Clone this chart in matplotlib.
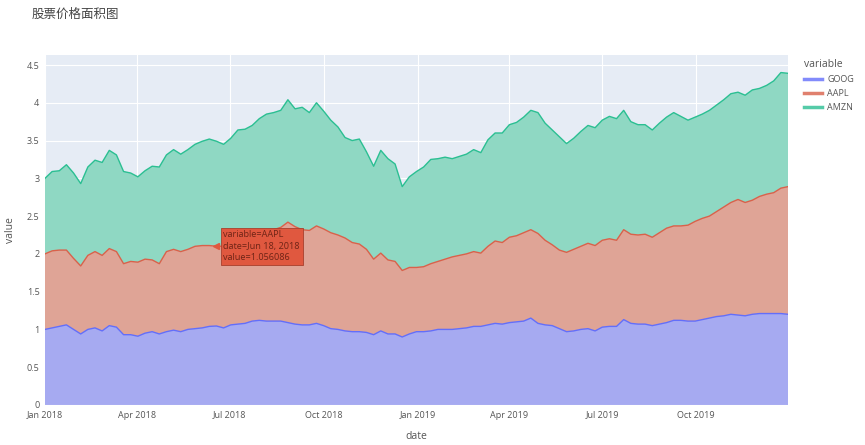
import matplotlib
matplotlib.use('Agg')
import matplotlib.pyplot as plt
import matplotlib.dates as mdates
from matplotlib.lines import Line2D
import numpy as np
import pandas as pd

plt.rcParams['font.family'] = ['Open Sans', 'Noto Sans CJK SC', 'DejaVu Sans']

# --- data: weekly normalised prices ---
dates = pd.date_range('2018-01-01', periods=105, freq='7D')

goog = [1.00, 1.02, 1.04, 1.06, 1.00, 0.94, 1.00, 1.02, 0.98, 1.05,
        1.03, 0.93, 0.93, 0.91, 0.95, 0.97, 0.94, 0.97, 0.99, 0.97,
        1.00, 1.01, 1.02, 1.04, 1.045, 1.02, 1.06,
        1.07, 1.08, 1.11, 1.12, 1.11, 1.11, 1.11, 1.09, 1.07, 1.06,
        1.06, 1.08, 1.05, 1.01, 1.00, 0.98, 0.97, 0.97, 0.96, 0.93,
        0.98, 0.94, 0.94, 0.90, 0.94, 0.97, 0.97, 0.98,
        1.00, 1.00, 1.00, 1.01, 1.02, 1.04, 1.04, 1.06, 1.08, 1.07,
        1.09, 1.10, 1.11, 1.15, 1.08, 1.06, 1.05, 1.01, 0.97, 0.98,
        1.00, 1.01, 0.98, 1.03, 1.04, 1.04,
        1.13, 1.08, 1.07, 1.07, 1.05, 1.07, 1.09, 1.12, 1.12, 1.11,
        1.11, 1.13, 1.15, 1.17, 1.18, 1.20, 1.19, 1.18, 1.20, 1.21,
        1.21, 1.21, 1.21, 1.20]

aapl = [1.00, 1.02, 1.01, 0.99, 0.94, 0.90, 0.98, 1.01, 1.00, 1.02,
        1.00, 0.94, 0.97, 0.98, 0.98, 0.95, 0.93, 1.06, 1.07, 1.06,
        1.06, 1.09, 1.09, 1.07, 1.056086, 1.08, 1.08,
        1.09, 1.11, 1.09, 1.10, 1.19, 1.21, 1.24, 1.33, 1.29, 1.26,
        1.25, 1.29, 1.28, 1.27, 1.25, 1.23, 1.18, 1.16, 1.10, 1.00,
        1.03, 0.98, 0.96, 0.88, 0.88, 0.85, 0.86, 0.89,
        0.90, 0.93, 0.96, 0.97, 0.98, 0.99, 0.97, 1.04, 1.09, 1.08,
        1.13, 1.14, 1.17, 1.17, 1.19, 1.12, 1.07, 1.04, 1.05, 1.08,
        1.10, 1.13, 1.13, 1.15, 1.16, 1.14,
        1.19, 1.18, 1.18, 1.19, 1.17, 1.21, 1.25, 1.25, 1.25, 1.27,
        1.32, 1.34, 1.35, 1.39, 1.44, 1.48, 1.53, 1.50, 1.51, 1.55,
        1.58, 1.60, 1.66, 1.69]

amzn = [1.00, 1.05, 1.05, 1.13, 1.13, 1.09, 1.17, 1.21, 1.23, 1.30,
        1.28, 1.22, 1.17, 1.13, 1.17, 1.24, 1.28, 1.28, 1.32, 1.29,
        1.32, 1.35, 1.38, 1.41, 1.39, 1.35, 1.39,
        1.48, 1.46, 1.50, 1.57, 1.55, 1.55, 1.55, 1.62, 1.56, 1.62,
        1.56, 1.63, 1.56, 1.49, 1.43, 1.33, 1.35, 1.39, 1.29, 1.23,
        1.36, 1.34, 1.29, 1.11, 1.20, 1.27, 1.32, 1.38,
        1.36, 1.35, 1.30, 1.31, 1.32, 1.35, 1.33, 1.41, 1.43, 1.45,
        1.49, 1.50, 1.53, 1.58, 1.60, 1.55, 1.52, 1.50, 1.44, 1.47,
        1.52, 1.56, 1.56, 1.59, 1.62, 1.61,
        1.58, 1.49, 1.46, 1.45, 1.42, 1.45, 1.47, 1.50, 1.45, 1.39,
        1.38, 1.38, 1.40, 1.41, 1.42, 1.44, 1.42, 1.42, 1.46, 1.43,
        1.44, 1.48, 1.53, 1.50]

names = ['GOOG', 'AAPL', 'AMZN']
line_colors = ['#636efa', '#d9614a', '#2bbf92']
fill_colors = ['#a6aaf1', '#dfa496', '#8fd8c3']
yticks = [0, 0.5, 1, 1.5, 2, 2.5, 3, 3.5, 4, 4.5]
ytick_labels = ['0', '0.5', '1', '1.5', '2', '2.5', '3', '3.5', '4', '4.5']

# hover label shown in the screenshot
hover_idx = 24
hover_text = 'variable=AAPL\ndate=Jun 18, 2018\nvalue=1.056086'

fig = plt.figure(figsize=(8.65, 4.45), dpi=100)
ax = fig.add_axes([0.052, 0.09, 0.859, 0.786])
ax.set_facecolor('#E6ECF5')

series = [np.array(goog), np.array(aapl), np.array(amzn)]
ax.stackplot(dates, *series, colors=fill_colors, zorder=2)
levels = np.cumsum(series, axis=0)
for lvl, c in zip(levels, line_colors):
    ax.plot(dates, lvl, color=c, lw=1.0, zorder=3)

ax.set_xlim(dates[0], dates[-1])
ax.set_ylim(0, 4.63)
ax.set_yticks(yticks)
ax.set_yticklabels(ytick_labels)
ax.xaxis.set_major_locator(mdates.MonthLocator(bymonth=[1, 4, 7, 10]))
ax.xaxis.set_major_formatter(mdates.DateFormatter('%b %Y'))

ax.grid(True, color='white', lw=0.8, zorder=1)
ax.set_axisbelow(True)
for s in ax.spines.values():
    s.set_visible(False)
ax.tick_params(length=0, labelsize=6.5, colors='#555555', pad=4)

ax.set_xlabel('date', fontsize=7.5, color='#555555', labelpad=8)
ax.set_ylabel('value', fontsize=7.5, color='#555555', labelpad=8)

fig.text(0.036, 0.968, '股票价格面积图', fontsize=9, color='#444444',
         family=['Noto Sans CJK SC', 'DejaVu Sans'], va='center')

# tooltip
ax.annotate(hover_text, xy=(dates[hover_idx], levels[1][hover_idx]),
            xytext=(7, 0), textcoords='offset pixels', ha='left', va='center',
            fontsize=6.6, color='#6e2416', linespacing=1.35, zorder=5,
            bbox=dict(boxstyle='square,pad=0.3', fc='#e0583f', ec='#a8402c', lw=0.6))
ax.plot([dates[hover_idx]], [levels[1][hover_idx]], marker='<', ms=4,
        color='#e0583f', zorder=5)

handles = [Line2D([0], [0], color=c, lw=2.5, alpha=0.8) for c in line_colors]
leg = fig.legend(handles, names, title='variable', loc='upper left',
                 bbox_to_anchor=(0.925, 0.875), frameon=False, fontsize=6.5,
                 title_fontsize=7.5, handlelength=2.0, handletextpad=0.6,
                 labelspacing=0.55, borderaxespad=0)
leg._legend_box.align = 'left'
for t in leg.get_texts():
    t.set_color('#555555')
leg.get_title().set_color('#555555')

fig.savefig('out.png', dpi=100)
